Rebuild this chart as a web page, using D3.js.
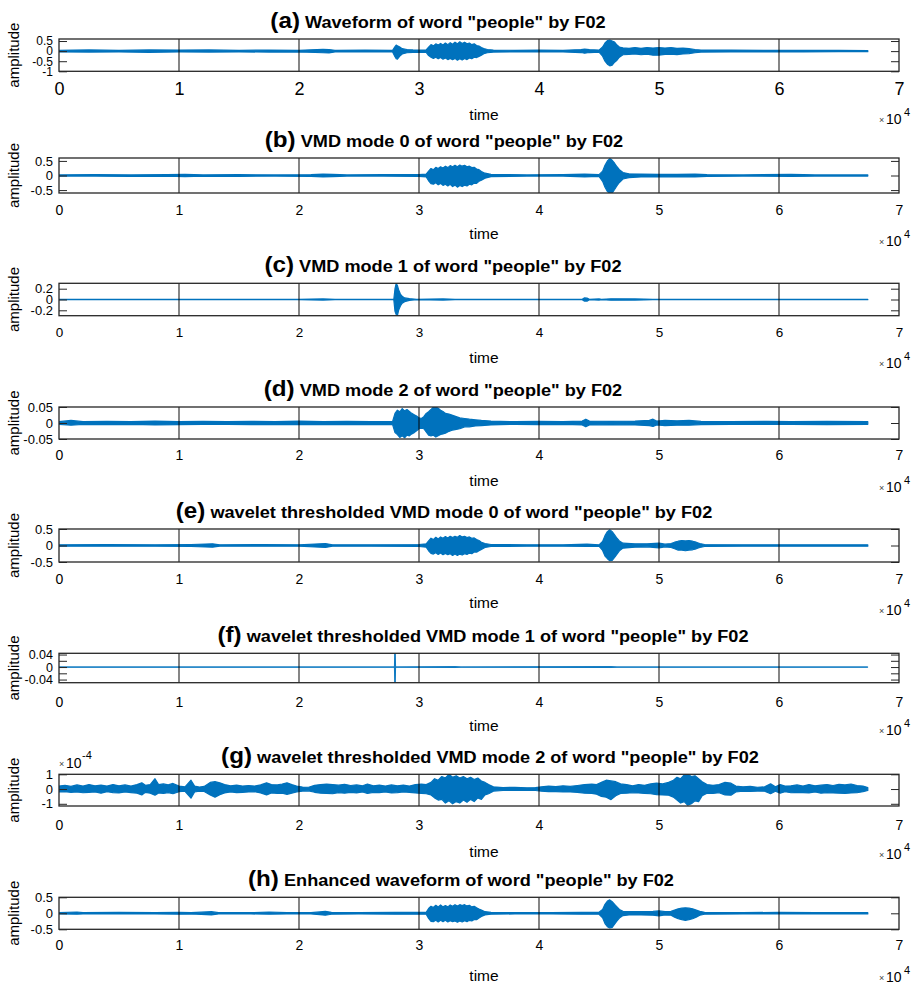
<!DOCTYPE html>
<html>
<head>
<meta charset="utf-8">
<script src="https://cdn.jsdelivr.net/npm/d3@7"></script>
<style>
  body { margin: 0; background: #fff; }
  svg text { font-family: "Liberation Sans", Arial, Helvetica, sans-serif; fill: #000; }
</style>
</head>
<body>
<svg id="fig" width="916" height="986"></svg>
<script>
// ---- data (time in units of 10^4 samples) ----
var letters = ["(a)", "(b)", "(c)", "(d)", "(e)", "(f)", "(g)", "(h)"];
var titles = [
  'Waveform of word "people" by F02',
  'VMD mode 0 of word "people" by F02',
  'VMD mode 1 of word "people" by F02',
  'VMD mode 2 of word "people" by F02',
  'wavelet thresholded VMD mode 0 of word "people" by F02',
  'wavelet thresholded VMD mode 1 of word "people" by F02',
  'wavelet thresholded VMD mode 2 of word "people" by F02',
  'Enhanced waveform of word "people" by F02'
];
var xTicks = [0, 1, 2, 3, 4, 5, 6, 7];
var yDomains = [[-1, 0.6], [-0.6, 0.6], [-0.3, 0.3], [-0.05, 0.05], [-0.5, 0.5], [-0.05, 0.044], [-1.15, 1], [-0.5, 0.5]];
var yTicks = [
  [-1, -0.5, 0, 0.5], [-0.5, 0, 0.5], [-0.2, 0, 0.2], [-0.05, 0, 0.05],
  [-0.5, 0, 0.5], [-0.04, -0.02, 0, 0.02, 0.04], [-1, 0, 1], [-0.5, 0, 0.5]
];
var yLabels = [
  ["-1", "-0.5", "0", "0.5"], ["-0.5", "0", "0.5"], ["-0.2", "0", "0.2"], ["-0.05", "0", "0.05"],
  ["-0.5", "0", "0.5"], ["-0.04", "", "0", "", "0.04"], ["-1", "0", "1"], ["-0.5", "0", "0.5"]
];

// envelopes: [time, upper, lower]
var waveA = [[0,0.04,-0.04],[0.25,0.06,-0.05],[0.5,0.04,-0.04],[0.75,0.06,-0.06],[1.0,0.05,-0.04],[1.25,0.06,-0.05],[1.5,0.04,-0.04],[1.75,0.05,-0.05],[2.0,0.04,-0.04],[2.2,0.09,-0.08],[2.25,0.08,-0.09],[2.3,0.04,-0.04],[2.55,0.05,-0.04],[2.78,0.04,-0.04],
  [2.80,0.22,-0.28],[2.81,0.30,-0.38],[2.82,0.26,-0.40],[2.84,0.20,-0.25],[2.86,0.12,-0.14],[2.90,0.08,-0.08],[2.95,0.06,-0.06],[3.0,0.05,-0.05],[3.06,0.06,-0.06],
  [3.08,0.2,-0.22],[3.10,0.32,-0.3],[3.12,0.26,-0.36],[3.14,0.36,-0.3],[3.16,0.3,-0.38],[3.18,0.38,-0.32],[3.20,0.3,-0.4],[3.22,0.4,-0.34],[3.24,0.32,-0.42],[3.26,0.42,-0.36],[3.28,0.34,-0.42],[3.30,0.44,-0.36],[3.32,0.36,-0.45],[3.34,0.46,-0.38],[3.36,0.38,-0.44],[3.38,0.44,-0.36],[3.40,0.36,-0.42],[3.42,0.4,-0.34],[3.44,0.32,-0.38],[3.46,0.36,-0.3],[3.48,0.28,-0.32],[3.50,0.25,-0.26],[3.52,0.18,-0.2],[3.54,0.13,-0.13],[3.57,0.08,-0.08],[3.62,0.05,-0.05],
  [3.8,0.04,-0.04],[4.0,0.05,-0.04],[4.2,0.04,-0.04],[4.35,0.08,-0.07],[4.38,0.1,-0.1],[4.42,0.07,-0.07],[4.5,0.05,-0.05],
  [4.53,0.2,-0.25],[4.55,0.4,-0.5],[4.57,0.52,-0.65],[4.59,0.55,-0.73],[4.61,0.5,-0.7],[4.63,0.45,-0.55],[4.65,0.3,-0.45],[4.67,0.2,-0.3],[4.70,0.16,-0.18],[4.75,0.14,-0.16],[4.80,0.18,-0.14],[4.85,0.14,-0.18],[4.90,0.18,-0.15],[4.95,0.15,-0.2],[5.0,0.18,-0.2],[5.05,0.15,-0.16],[5.1,0.18,-0.15],[5.15,0.14,-0.17],[5.2,0.15,-0.14],[5.25,0.12,-0.12],[5.3,0.08,-0.08],[5.35,0.05,-0.05],[5.6,0.05,-0.04],[5.9,0.04,-0.04],[6.2,0.04,-0.04],[6.5,0.04,-0.03],[6.74,0.03,-0.03]];

var waveB = [[0,0.02,-0.02],[0.3,0.03,-0.02],[0.6,0.02,-0.03],[0.9,0.03,-0.02],[1.05,0.04,-0.04],[1.2,0.02,-0.02],[1.5,0.03,-0.03],[1.8,0.02,-0.02],[2.1,0.03,-0.03],[2.2,0.05,-0.05],[2.28,0.04,-0.04],[2.4,0.02,-0.02],[2.7,0.03,-0.02],[3.0,0.03,-0.03],[3.06,0.05,-0.05],
  [3.08,0.15,-0.18],[3.10,0.24,-0.28],[3.12,0.2,-0.3],[3.14,0.28,-0.25],[3.16,0.24,-0.32],[3.18,0.3,-0.27],[3.20,0.26,-0.34],[3.22,0.32,-0.3],[3.24,0.27,-0.36],[3.26,0.34,-0.3],[3.28,0.3,-0.38],[3.30,0.35,-0.33],[3.32,0.3,-0.4],[3.34,0.36,-0.34],[3.36,0.32,-0.38],[3.38,0.35,-0.33],[3.40,0.3,-0.36],[3.42,0.32,-0.3],[3.44,0.27,-0.32],[3.46,0.28,-0.26],[3.48,0.22,-0.27],[3.50,0.2,-0.2],[3.52,0.14,-0.16],[3.55,0.08,-0.09],[3.6,0.04,-0.04],
  [3.9,0.02,-0.02],[4.2,0.03,-0.02],[4.38,0.05,-0.05],[4.5,0.03,-0.03],
  [4.53,0.15,-0.2],[4.55,0.35,-0.4],[4.57,0.5,-0.55],[4.59,0.58,-0.6],[4.61,0.52,-0.6],[4.63,0.42,-0.48],[4.65,0.3,-0.35],[4.67,0.2,-0.24],[4.70,0.1,-0.12],[4.75,0.06,-0.07],[4.85,0.05,-0.05],[5.0,0.04,-0.05],[5.15,0.04,-0.04],[5.3,0.05,-0.05],[5.4,0.03,-0.03],[5.7,0.02,-0.02],[6.1,0.04,-0.03],[6.3,0.02,-0.02],[6.74,0.02,-0.02]];

var waveC = [[0,0.005,-0.005],[2.0,0.005,-0.005],[2.2,0.01,-0.01],[2.3,0.005,-0.005],[2.79,0.005,-0.005],[2.8,0.2,-0.22],[2.81,0.3,-0.28],[2.82,0.26,-0.3],[2.83,0.18,-0.2],[2.845,0.1,-0.12],[2.86,0.06,-0.07],[2.88,0.03,-0.04],[2.92,0.015,-0.015],[2.98,0.005,-0.005],[3.2,0.01,-0.01],[3.3,0.005,-0.005],
  [4.36,0.005,-0.005],[4.38,0.03,-0.03],[4.4,0.025,-0.03],[4.42,0.005,-0.005],[4.5,0.01,-0.01],[4.52,0.005,-0.005],[4.6,0.012,-0.012],[4.8,0.01,-0.01],[4.95,0.005,-0.005],[6.74,0.005,-0.005]];

var waveD = [[0,0.004,-0.004],[0.1,0.008,-0.007],[0.2,0.004,-0.004],[0.4,0.005,-0.005],[0.6,0.004,-0.004],[0.8,0.006,-0.006],[1.0,0.004,-0.005],[1.2,0.005,-0.004],[1.4,0.004,-0.004],[1.6,0.005,-0.005],[1.8,0.004,-0.004],[2.0,0.006,-0.005],[2.2,0.004,-0.004],[2.4,0.005,-0.005],[2.6,0.004,-0.004],[2.78,0.005,-0.005],
  [2.80,0.03,-0.03],[2.82,0.04,-0.036],[2.84,0.035,-0.045],[2.86,0.045,-0.04],[2.88,0.038,-0.046],[2.90,0.042,-0.038],[2.92,0.036,-0.04],[2.94,0.03,-0.034],[2.96,0.026,-0.03],[2.98,0.022,-0.024],[3.00,0.016,-0.018],[3.02,0.014,-0.016],[3.04,0.02,-0.018],[3.06,0.03,-0.028],[3.08,0.035,-0.038],[3.10,0.042,-0.04],[3.12,0.05,-0.038],[3.14,0.05,-0.044],[3.16,0.046,-0.04],[3.18,0.04,-0.036],[3.20,0.036,-0.034],[3.22,0.03,-0.032],[3.25,0.028,-0.026],[3.28,0.024,-0.022],[3.31,0.02,-0.02],[3.34,0.016,-0.018],[3.38,0.014,-0.012],[3.42,0.012,-0.012],[3.47,0.01,-0.009],[3.52,0.008,-0.008],[3.6,0.006,-0.006],
  [3.8,0.004,-0.004],[4.0,0.005,-0.005],[4.2,0.004,-0.004],[4.36,0.006,-0.006],[4.39,0.012,-0.012],[4.42,0.006,-0.006],[4.6,0.005,-0.005],[4.8,0.006,-0.006],[4.92,0.008,-0.008],[4.95,0.012,-0.011],[4.98,0.006,-0.006],[5.05,0.008,-0.008],[5.15,0.007,-0.007],[5.25,0.008,-0.007],[5.35,0.005,-0.005],[5.6,0.004,-0.004],[5.9,0.005,-0.004],[6.1,0.004,-0.004],[6.4,0.005,-0.005],[6.74,0.004,-0.004]];

var waveE = [[0,0.02,-0.02],[0.4,0.03,-0.02],[0.8,0.02,-0.02],[1.1,0.03,-0.03],[1.28,0.05,-0.05],[1.34,0.02,-0.02],[1.7,0.03,-0.02],[2.0,0.02,-0.02],[2.22,0.06,-0.06],[2.28,0.02,-0.02],[2.6,0.02,-0.02],[3.0,0.03,-0.03],[3.06,0.05,-0.05],
  [3.08,0.14,-0.16],[3.10,0.22,-0.24],[3.12,0.18,-0.26],[3.14,0.25,-0.22],[3.16,0.2,-0.27],[3.18,0.26,-0.23],[3.20,0.22,-0.28],[3.22,0.27,-0.24],[3.24,0.23,-0.28],[3.26,0.28,-0.25],[3.28,0.24,-0.3],[3.30,0.28,-0.26],[3.32,0.25,-0.3],[3.34,0.3,-0.26],[3.36,0.26,-0.29],[3.38,0.28,-0.25],[3.40,0.24,-0.27],[3.42,0.26,-0.23],[3.44,0.22,-0.25],[3.46,0.23,-0.2],[3.48,0.18,-0.2],[3.50,0.15,-0.16],[3.52,0.1,-0.12],[3.55,0.06,-0.06],[3.6,0.03,-0.03],
  [3.9,0.02,-0.02],[4.2,0.02,-0.02],[4.4,0.04,-0.03],[4.5,0.02,-0.02],
  [4.53,0.12,-0.15],[4.55,0.3,-0.32],[4.57,0.42,-0.4],[4.59,0.48,-0.46],[4.61,0.42,-0.45],[4.63,0.32,-0.36],[4.65,0.22,-0.26],[4.67,0.14,-0.16],[4.70,0.07,-0.08],[4.8,0.05,-0.05],[4.9,0.05,-0.04],[5.0,0.07,-0.07],[5.05,0.04,-0.04],[5.1,0.06,-0.06],
  [5.13,0.1,-0.1],[5.16,0.13,-0.14],[5.19,0.15,-0.14],[5.22,0.14,-0.16],[5.25,0.15,-0.14],[5.28,0.13,-0.13],[5.31,0.1,-0.1],[5.34,0.06,-0.06],[5.38,0.03,-0.03],[5.7,0.02,-0.02],[6.0,0.02,-0.02],[6.4,0.02,-0.02],[6.74,0.02,-0.02]];

var waveF = [[0,0.0005,-0.0005],[2.795,0.0005,-0.0005],[2.798,0.044,-0.05],[2.802,0.044,-0.05],[2.805,0.0005,-0.0005],[3.3,0.0015,-0.0015],[3.35,0.0005,-0.0005],[4.6,0.0015,-0.0015],[4.65,0.0005,-0.0005],[6.74,0.0005,-0.0005]];

// x 10^-4
var waveG = [[0,0.2,-0.2],[0.05,0.25,-0.18],[0.1,0.18,-0.22],[0.15,0.28,-0.2],[0.2,0.2,-0.25],[0.25,0.3,-0.22],[0.3,0.22,-0.2],[0.35,0.26,-0.28],[0.4,0.2,-0.18],[0.45,0.3,-0.24],[0.5,0.22,-0.26],[0.55,0.28,-0.2],[0.6,0.2,-0.24],[0.65,0.3,-0.28],[0.69,0.42,-0.4],[0.72,0.25,-0.22],[0.76,0.3,-0.28],[0.8,0.7,-0.42],[0.83,0.3,-0.26],[0.87,0.35,-0.3],[0.91,0.28,-0.24],[0.95,0.38,-0.32],[1.0,0.2,-0.18],[1.05,0.15,-0.15],[1.1,0.6,-0.62],[1.13,0.2,-0.2],[1.17,0.14,-0.14],[1.21,0.18,-0.16],[1.26,0.45,-0.4],[1.3,0.5,-0.55],[1.34,0.42,-0.38],[1.38,0.3,-0.26],[1.43,0.22,-0.2],[1.48,0.26,-0.24],[1.53,0.2,-0.22],[1.58,0.24,-0.2],[1.63,0.2,-0.18],[1.68,0.28,-0.26],[1.73,0.42,-0.4],[1.77,0.3,-0.26],[1.82,0.28,-0.3],[1.86,0.34,-0.28],[1.9,0.42,-0.36],[1.94,0.3,-0.28],[1.98,0.2,-0.2],[2.03,0.14,-0.14],[2.08,0.12,-0.12],[2.13,0.25,-0.22],[2.18,0.3,-0.28],[2.23,0.34,-0.3],[2.28,0.3,-0.32],[2.33,0.26,-0.24],[2.38,0.32,-0.28],[2.43,0.24,-0.22],[2.48,0.28,-0.26],[2.53,0.22,-0.2],[2.57,0.34,-0.3],[2.62,0.22,-0.22],[2.67,0.26,-0.24],[2.72,0.2,-0.2],[2.77,0.28,-0.26],[2.82,0.22,-0.24],[2.87,0.26,-0.2],[2.92,0.2,-0.22],[2.97,0.3,-0.26],[3.02,0.34,-0.3],[3.06,0.3,-0.32],[3.1,0.45,-0.4],
  [3.13,0.7,-0.6],[3.16,0.6,-0.75],[3.19,0.85,-0.7],[3.22,0.75,-0.95],[3.25,1.0,-0.8],[3.28,0.8,-1.0],[3.31,0.9,-0.85],[3.34,0.75,-0.95],[3.37,0.85,-0.75],[3.4,0.7,-0.9],[3.43,0.8,-0.7],[3.46,0.65,-0.85],[3.49,0.75,-0.6],[3.52,0.55,-0.7],[3.55,0.45,-0.4],[3.58,0.3,-0.32],[3.62,0.15,-0.14],[3.7,0.1,-0.1],[3.8,0.12,-0.1],[3.9,0.08,-0.08],[3.97,0.1,-0.1],
  [4.02,0.15,-0.15],[4.08,0.2,-0.18],[4.14,0.16,-0.18],[4.2,0.22,-0.2],[4.26,0.18,-0.2],[4.32,0.24,-0.22],[4.38,0.3,-0.28],[4.44,0.34,-0.3],[4.48,0.3,-0.35],[4.52,0.45,-0.5],[4.56,0.6,-0.55],[4.6,0.55,-0.72],[4.64,0.5,-0.45],[4.68,0.35,-0.3],[4.73,0.3,-0.28],[4.78,0.22,-0.25],[4.83,0.3,-0.26],[4.88,0.25,-0.3],[4.93,0.35,-0.32],[4.98,0.4,-0.38],
  [5.03,0.35,-0.4],[5.08,0.45,-0.42],[5.12,0.6,-0.55],[5.15,0.8,-0.75],[5.18,0.7,-0.95],[5.21,0.95,-0.85],[5.24,1.0,-1.1],[5.27,0.85,-1.0],[5.3,0.9,-0.8],[5.33,0.7,-0.85],[5.36,0.5,-0.45],[5.4,0.3,-0.28],[5.45,0.25,-0.3],[5.5,0.3,-0.25],[5.55,0.45,-0.4],[5.6,0.4,-0.42],[5.64,0.2,-0.2],[5.7,0.15,-0.15],[5.76,0.18,-0.16],[5.82,0.12,-0.14],[5.88,0.15,-0.15],[5.93,0.35,-0.32],[5.97,0.15,-0.15],
  [6.01,0.3,-0.28],[6.05,0.2,-0.18],[6.1,0.22,-0.25],[6.15,0.28,-0.22],[6.2,0.2,-0.24],[6.25,0.3,-0.26],[6.3,0.22,-0.2],[6.35,0.26,-0.28],[6.4,0.3,-0.24],[6.45,0.24,-0.26],[6.5,0.32,-0.28],[6.55,0.28,-0.3],[6.6,0.34,-0.26],[6.65,0.24,-0.25],[6.7,0.2,-0.18],[6.74,0.1,-0.1]];

var waveH = [[0,0.02,-0.02],[0.15,0.04,-0.03],[0.2,0.02,-0.02],[0.5,0.03,-0.02],[0.8,0.02,-0.02],[1.0,0.03,-0.03],[1.1,0.02,-0.02],[1.27,0.05,-0.05],[1.33,0.02,-0.02],[1.6,0.02,-0.02],[1.75,0.04,-0.03],[1.9,0.02,-0.02],[2.1,0.02,-0.02],[2.22,0.06,-0.06],[2.27,0.03,-0.03],[2.5,0.02,-0.02],[2.8,0.03,-0.03],[3.06,0.03,-0.03],
  [3.08,0.15,-0.16],[3.10,0.22,-0.25],[3.12,0.18,-0.26],[3.14,0.25,-0.22],[3.16,0.2,-0.27],[3.18,0.26,-0.22],[3.20,0.2,-0.26],[3.22,0.24,-0.22],[3.24,0.2,-0.27],[3.26,0.26,-0.23],[3.28,0.22,-0.26],[3.30,0.27,-0.24],[3.32,0.23,-0.28],[3.34,0.27,-0.24],[3.36,0.24,-0.27],[3.38,0.27,-0.23],[3.40,0.23,-0.26],[3.42,0.25,-0.22],[3.44,0.2,-0.24],[3.46,0.22,-0.19],[3.48,0.17,-0.2],[3.50,0.13,-0.15],[3.52,0.1,-0.1],[3.55,0.05,-0.05],[3.6,0.03,-0.03],
  [3.8,0.02,-0.02],[4.1,0.02,-0.02],[4.35,0.03,-0.03],[4.5,0.03,-0.03],
  [4.53,0.12,-0.14],[4.55,0.28,-0.32],[4.57,0.38,-0.42],[4.59,0.42,-0.46],[4.61,0.36,-0.44],[4.63,0.28,-0.34],[4.65,0.2,-0.24],[4.67,0.12,-0.15],[4.70,0.06,-0.07],[4.75,0.05,-0.05],[4.85,0.05,-0.05],[4.95,0.06,-0.06],[5.0,0.08,-0.08],[5.05,0.05,-0.05],[5.1,0.06,-0.06],
  [5.13,0.1,-0.12],[5.16,0.14,-0.17],[5.19,0.16,-0.2],[5.22,0.17,-0.22],[5.25,0.16,-0.2],[5.28,0.14,-0.17],[5.31,0.1,-0.12],[5.34,0.06,-0.06],[5.38,0.03,-0.03],[5.7,0.02,-0.02],[6.0,0.03,-0.02],[6.3,0.02,-0.02],[6.74,0.02,-0.02]];

var waves = [waveA, waveB, waveC, waveD, waveE, waveF, waveG, waveH];

// ---- layout ----
var boxLeft = 59, boxRight = 899;
var layout = [
  { top: 39,    bottom: 71.3,  titleX: 438, xFont: 18, xCy: 17, yFont: 12, timeDy: 48.7 },
  { top: 158,   bottom: 193,   titleX: 444, xFont: 14, xCy: 17, yFont: 13, timeDy: 46 },
  { top: 283.3, bottom: 315.7, titleX: 443, xFont: 13.5, xCy: 17, yFont: 13, timeDy: 47.6 },
  { top: 407,   bottom: 439,   titleX: 443, xFont: 14, xCy: 16, yFont: 13, timeDy: 46.7 },
  { top: 529,   bottom: 562,   titleX: 444, xFont: 14, xCy: 17, yFont: 13, timeDy: 46 },
  { top: 653.3, bottom: 682.7, titleX: 483, xFont: 14, xCy: 19, yFont: 12.5, timeDy: 48.3 },
  { top: 774.3, bottom: 806,   titleX: 490, xFont: 14, xCy: 19, yFont: 13, timeDy: 51.3 },
  { top: 897.3, bottom: 929.3, titleX: 461, xFont: 14, xCy: 16, yFont: 13, timeDy: 51.4 }
];
var blue = "#0072BD";

var svg = d3.select("#fig");
var defs = svg.append("defs");

layout.forEach(function(L, i) {
  var x = d3.scaleLinear().domain([0, 7]).range([boxLeft, boxRight]);
  var y = d3.scaleLinear().domain(yDomains[i]).range([L.bottom, L.top]);
  var g = svg.append("g");

  defs.append("clipPath").attr("id", "clip" + i)
    .append("rect")
    .attr("x", boxLeft).attr("y", L.top)
    .attr("width", boxRight - boxLeft).attr("height", L.bottom - L.top);

  // waveform envelope
  var area = d3.area()
    .x(function(d) { return x(d[0]); })
    .y0(function(d) { return y(d[2]); })
    .y1(function(d) { return y(d[1]); });

  g.append("path")
    .datum(waves[i])
    .attr("clip-path", "url(#clip" + i + ")")
    .attr("d", area)
    .attr("fill", blue)
    .attr("stroke", blue)
    .attr("stroke-width", i === 5 ? 0.9 : 1.2)
    .attr("stroke-linejoin", "round");

  // grid lines (drawn over data like MATLAB)
  g.selectAll("line.grid")
    .data(xTicks.slice(1, -1))
    .enter().append("line")
    .attr("class", "grid")
    .attr("x1", function(d) { return x(d); })
    .attr("x2", function(d) { return x(d); })
    .attr("y1", L.top).attr("y2", L.bottom)
    .attr("stroke", "rgba(0,0,0,0.6)")
    .attr("stroke-width", 1.6);

  // y axes (ticks inward, both sides)
  var yl = g.append("g")
    .attr("transform", "translate(" + boxLeft + ",0)")
    .call(d3.axisLeft(y).tickValues(yTicks[i]).tickSize(-8).tickPadding(6)
      .tickFormat(function(d, k) { return yLabels[i][k]; }));
  yl.select(".domain").remove();
  yl.selectAll("line").attr("stroke", "#262626");
  yl.selectAll("text").style("font-size", L.yFont + "px");

  var yr = g.append("g")
    .attr("transform", "translate(" + boxRight + ",0)")
    .call(d3.axisRight(y).tickValues(yTicks[i]).tickSize(-8).tickFormat(""));
  yr.select(".domain").remove();
  yr.selectAll("line").attr("stroke", "#262626");

  // x axis labels
  var xa = g.append("g")
    .attr("transform", "translate(0," + L.bottom + ")")
    .call(d3.axisBottom(x).tickValues(xTicks).tickSize(0)
      .tickPadding(L.xCy - 0.36 * L.xFont).tickFormat(d3.format("d")));
  xa.select(".domain").remove();
  xa.selectAll("text").style("font-size", L.xFont + "px");

  // box
  g.append("rect")
    .attr("x", boxLeft).attr("y", L.top)
    .attr("width", boxRight - boxLeft).attr("height", L.bottom - L.top)
    .attr("fill", "none").attr("stroke", "#262626").attr("stroke-width", 1.3);

  // title
  var t = g.append("text")
    .attr("transform", "translate(" + L.titleX + "," + (L.top - 11.5) + ") scale(1.1,1)")
    .attr("text-anchor", "middle")
    .style("font-weight", "bold");
  t.append("tspan").style("font-size", "22px").text(letters[i]);
  t.append("tspan").style("font-size", "16.5px").text(" " + titles[i]);

  // y label
  g.append("text")
    .attr("transform", "translate(19," + ((L.top + L.bottom) / 2) + ") rotate(-90)")
    .attr("text-anchor", "middle")
    .style("font-size", "15px")
    .text("amplitude");

  // x label
  g.append("text")
    .attr("x", 484).attr("y", L.bottom + L.timeDy)
    .attr("text-anchor", "middle")
    .style("font-size", "15.5px")
    .text("time");

  // x exponent
  var ex = g.append("g").attr("transform", "translate(879," + (L.bottom + 52.5) + ")");
  ex.append("text").attr("x", 0).attr("y", -1).style("font-size", "9px").style("fill", "#444").text("\u00d7");
  ex.append("text").attr("x", 7).attr("y", 0).style("font-size", "14px").text("10");
  ex.append("text").attr("x", 25).attr("y", -8).style("font-size", "11px").text("4");

  // y exponent for panel g
  if (i === 6) {
    var ey = g.append("g").attr("transform", "translate(59," + (L.top - 6) + ")");
    ey.append("text").attr("x", 0).attr("y", -1).style("font-size", "9px").style("fill", "#444").text("\u00d7");
    ey.append("text").attr("x", 7).attr("y", 0).style("font-size", "14px").text("10");
    ey.append("text").attr("x", 23).attr("y", -9).style("font-size", "11px").text("-4");
  }
});
</script>
</body>
</html>
